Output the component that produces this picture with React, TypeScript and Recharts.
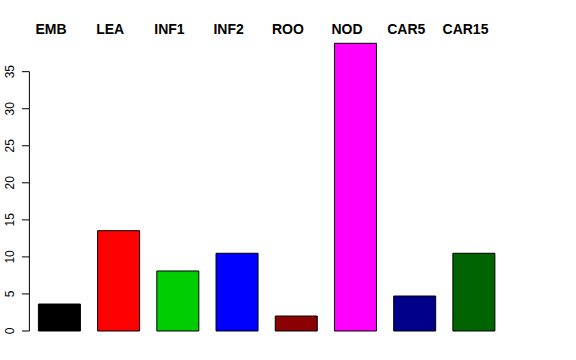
import React from "react";
import { BarChart, Bar, XAxis, YAxis, Cell } from "recharts";

const categories = ["EMB", "LEA", "INF1", "INF2", "ROO", "NOD", "CAR5", "CAR15"];
const values = [3.64, 13.54, 8.1, 10.49, 2.02, 38.83, 4.72, 10.49];
const colors = ["#000000", "#FF0000", "#00CD00", "#0000FF", "#8B0000", "#FF00FF", "#00008B", "#006400"];
const yTicks = [0, 5, 10, 15, 20, 25, 30, 35];

const data = categories.map((c, i) => ({ name: c, value: values[i] }));

const W = 576;
const H = 360;
const MARGIN = { top: 0, right: 72.9, bottom: 17.5, left: 0 };
const XAXIS_H = 31.8;
const YAXIS_W = 29.4;

const maxV = Math.max(...values);
const yDomain: [number, number] = [-0.04 * maxV, 1.04 * maxV];
const plotH = H - MARGIN.top - MARGIN.bottom - XAXIS_H;
const pxPerUnit = plotH / (yDomain[1] - yDomain[0]);
const stepPx = (yTicks[1] - yTicks[0]) * pxPerUnit;

const FONT = "'Liberation Sans', Arial, Helvetica, sans-serif";

const XTick = (props: any) => {
  const { x, y, payload } = props;
  return (
    <text
      x={x - 8}
      y={y + 2}
      textAnchor="middle"
      fontFamily={FONT}
      fontWeight="bold"
      fontSize={14}
      fill="#000"
    >
      {payload.value}
    </text>
  );
};

const YTick = (props: any) => {
  const { x, y, payload, index } = props;
  const lx = x - 15.4;
  return (
    <g>
      <line x1={x - 7.5} y1={y} x2={x} y2={y} stroke="#000" strokeWidth={1} />
      {index > 0 && (
        <line x1={x} y1={y} x2={x} y2={y + stepPx} stroke="#000" strokeWidth={1} />
      )}
      <text
        x={lx}
        y={y}
        transform={`rotate(-90, ${lx}, ${y})`}
        textAnchor="middle"
        fontFamily={FONT}
        fontSize={12}
        fill="#000"
      >
        {payload.value}
      </text>
    </g>
  );
};

export default function App() {
  return (
    <div style={{ position: "absolute", left: 0, top: 0, background: "#fff" }}>
      <BarChart width={W} height={H} data={data} margin={MARGIN}>
        <XAxis
          dataKey="name"
          orientation="top"
          height={XAXIS_H}
          axisLine={false}
          tickLine={false}
          tickSize={0}
          tickMargin={0}
          interval={0}
          tick={<XTick />}
        />
        <YAxis
          type="number"
          domain={yDomain}
          ticks={yTicks}
          width={YAXIS_W}
          axisLine={false}
          tickLine={false}
          tickSize={0}
          tickMargin={0}
          interval={0}
          tick={<YTick />}
        />
        <Bar dataKey="value" barSize={42} stroke="#000" strokeWidth={1} isAnimationActive={false}>
          {data.map((d, i) => (
            <Cell key={d.name} fill={colors[i]} />
          ))}
        </Bar>
      </BarChart>
    </div>
  );
}
